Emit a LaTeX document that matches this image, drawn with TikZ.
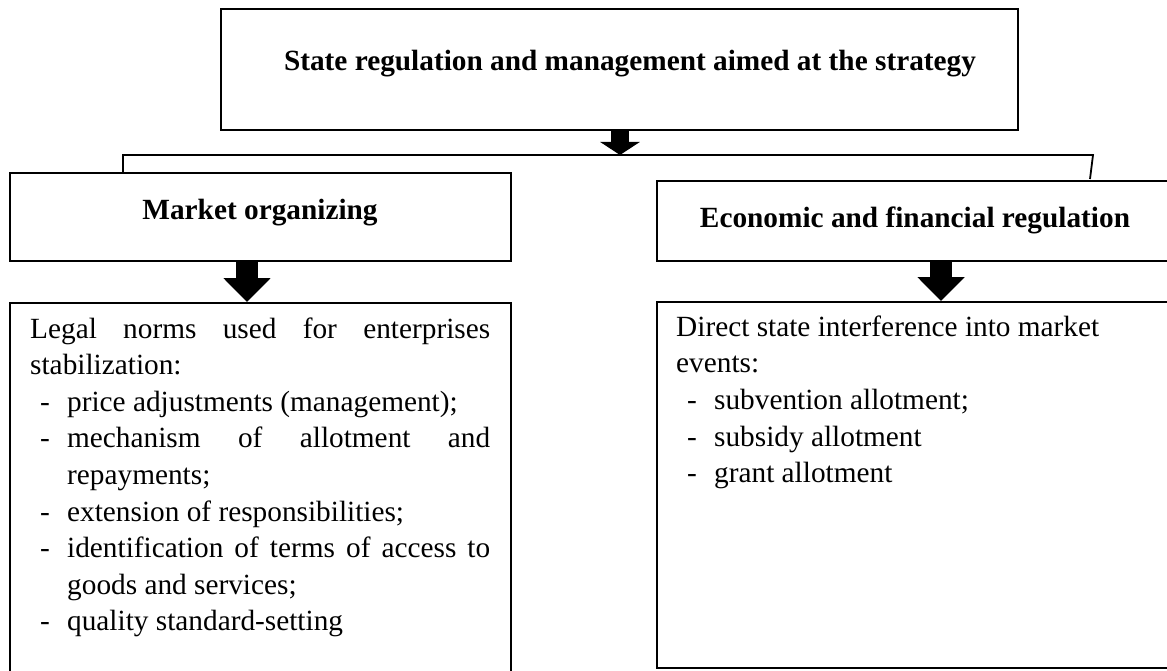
\documentclass[tikz,border=0pt]{standalone}
\usepackage{fontspec}
\setmainfont{Liberation Serif}
\usetikzlibrary{arrows.meta}
\tikzset{
  box/.style={draw, line width=1.6pt, inner sep=0pt, anchor=north west},
  bodytext/.style={font=\fontsize{29.3}{36.6}\selectfont, inner sep=0pt, anchor=base west},
  headtext/.style={font=\bfseries\fontsize{29.3}{34}\selectfont, inner sep=0pt, anchor=base},
  bigarrow/.style={line width=22pt, -{Triangle[width=46pt,length=24pt]}},
  smallarrow/.style={line width=18pt, -{Triangle[width=39pt,length=13pt]}},
  link/.style={line width=1.8pt}
}
\newcommand{\dashitem}[1]{\makebox[27pt][l]{-}#1}
\begin{document}
\begin{tikzpicture}[x=1pt,y=-1pt]
\useasboundingbox (0,0) rectangle (1167,671);
\clip (0,0) rectangle (1167,671);
% boxes
\node[box, minimum width=797pt, minimum height=121pt] (top) at (220,8) {};
\node[box, minimum width=501pt, minimum height=88pt] (mo) at (9,172) {};
\node[box, minimum width=516pt, minimum height=80pt] (ef) at (656,180) {};
\node[box, minimum width=501pt, minimum height=375pt] (lo) at (9,302) {};
\node[box, minimum width=516pt, minimum height=366pt] (ro) at (656,301) {};
% headings
\node[headtext] (ht) at (630,71) {State regulation and management aimed at the strategy};
\node[headtext] (hm) at (260,220) {Market organizing};
\node[headtext] (he) at (915,227) {Economic and financial regulation};
% connectors
\coordinate (j) at (620,155);
\coordinate (hl) at (123,155);
\coordinate (hr) at (1093,155);
\coordinate (hre) at (1090,179);
\draw[link] (hl |- mo.north) -- (hl) -- (hr) -- (hre);
\draw[smallarrow] (top.south -| j) -- (j);
\coordinate (a2) at (247,0);
\coordinate (a3) at (941,0);
\draw[bigarrow] (mo.south -| a2) -- (lo.north -| a2);
\draw[bigarrow] (ef.south -| a3) -- (ro.north -| a3);
% left text
\node[bodytext] (l1) at (30,338) {\makebox[460pt][s]{Legal norms used for enterprises}};
\node[bodytext] (l2) at (30,374.6) {stabilization:};
\node[bodytext] (l3) at (40,411.2) {\dashitem{price adjustments (management);}};
\node[bodytext] (l4) at (40,447.8) {\dashitem{\makebox[423pt][s]{mechanism of allotment and}}};
\node[bodytext] (l5) at (67,484.4) {repayments;};
\node[bodytext] (l6) at (40,521) {\dashitem{extension of responsibilities;}};
\node[bodytext] (l7) at (40,557.6) {\dashitem{\makebox[423pt][s]{identification of terms of access to}}};
\node[bodytext] (l8) at (67,594.2) {goods and services;};
\node[bodytext] (l9) at (40,630.8) {\dashitem{quality standard-setting}};
% right text
\node[bodytext] (r1) at (676,336) {Direct state interference into market};
\node[bodytext] (r2) at (676,372.7) {events:};
\node[bodytext] (r3) at (687,409.4) {\dashitem{subvention allotment;}};
\node[bodytext] (r4) at (687,446) {\dashitem{subsidy allotment}};
\node[bodytext] (r5) at (687,482.8) {\dashitem{grant allotment}};
\end{tikzpicture}
\end{document}
